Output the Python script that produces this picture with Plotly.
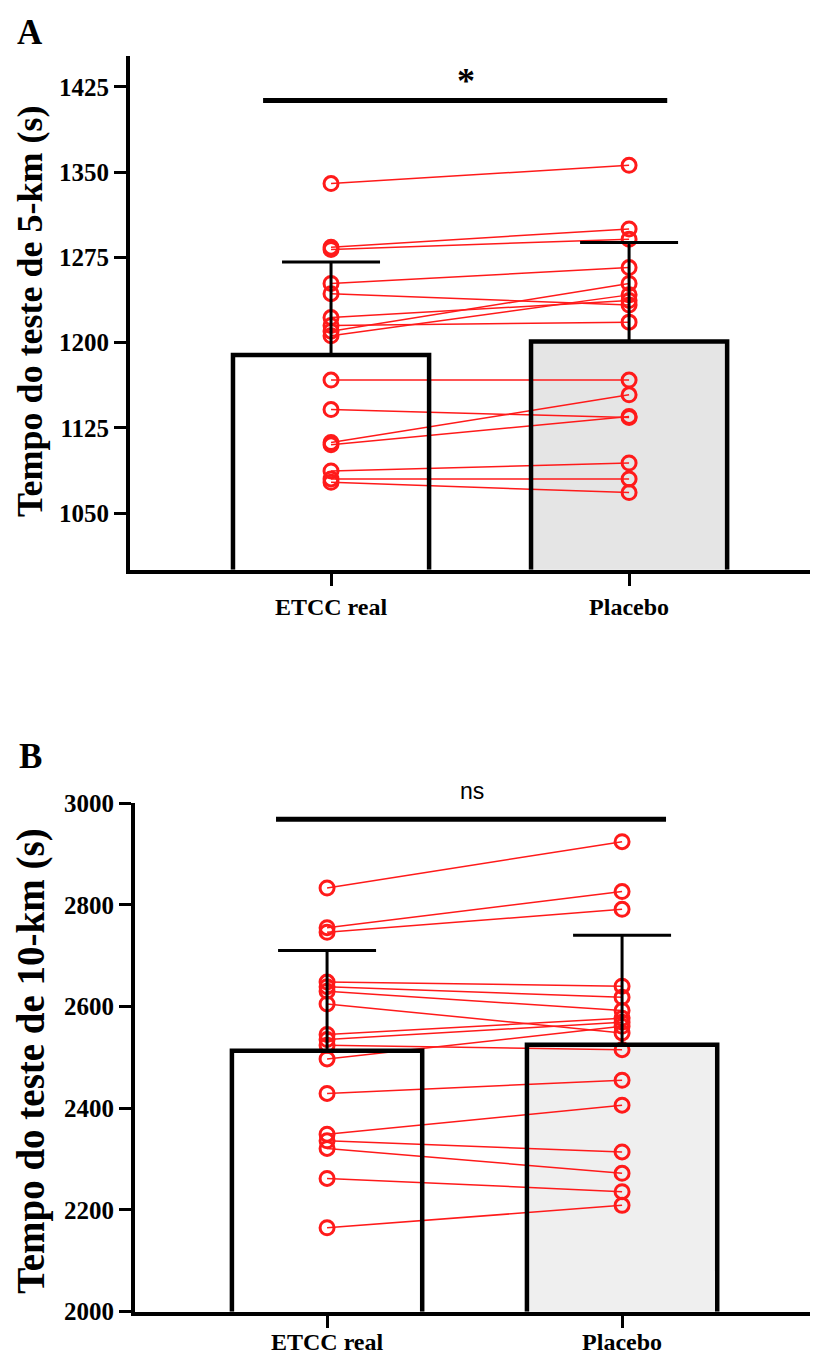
import plotly.graph_objects as go

# ---------------- data ----------------
groups = ["ETCC real", "Placebo"]

# Panel A: 5-km test time (s)
a_real = [1340, 1284, 1282, 1252, 1243, 1222, 1215, 1210, 1206, 1167, 1141, 1112, 1110, 1087, 1080, 1077]
a_plac = [1356, 1300, 1291, 1266, 1233, 1237, 1218, 1252, 1242, 1167, 1134, 1154, 1135, 1094, 1080, 1068]
a_mean = [1189, 1201]
a_sd = [82, 87]
a_ticks = [1050, 1125, 1200, 1275, 1350, 1425]

# Panel B: 10-km test time (s)
b_real = [2833, 2755, 2746, 2648, 2639, 2630, 2605, 2545, 2535, 2524, 2497, 2429, 2349, 2336, 2321, 2262, 2165]
b_plac = [2924, 2826, 2791, 2640, 2618, 2592, 2548, 2577, 2569, 2515, 2561, 2455, 2406, 2314, 2272, 2236, 2209]
b_mean = [2513, 2525]
b_sd = [197, 215]
b_ticks = [2000, 2200, 2400, 2600, 2800, 3000]

# ---------------- style / geometry ----------------
OFF = 8  # default page body margin
W, H = 819 - 2 * OFF, 1367 - 2 * OFF
SERIF = "Liberation Serif"
RED = "#ff1a1a"
pos = [0, 1]


def px(xp):
    return (xp - OFF) / W


def py(yp):
    return 1 - (yp - OFF) / H


fig = go.Figure()


def add_panel(xa, real, plac, mean, sd, fills, bw, ymin):
    xref = "x" if xa == 1 else f"x{xa}"
    yref = "y" if xa == 1 else f"y{xa}"
    # bar fills
    fig.add_trace(go.Bar(x=pos, y=mean, width=bw,
                         marker=dict(color=fills, line=dict(width=0)),
                         xaxis=xref, yaxis=yref, showlegend=False, hoverinfo="skip"))
    # paired lines + points
    xs, ys = [], []
    for r, p in zip(real, plac):
        xs += [pos[0], pos[1], None]
        ys += [r, p, None]
    fig.add_trace(go.Scatter(x=xs, y=ys, mode="lines+markers",
                             line=dict(color=RED, width=1.5),
                             marker=dict(symbol="circle-open", size=14, color=RED,
                                         line=dict(width=3, color=RED)),
                             xaxis=xref, yaxis=yref, showlegend=False, cliponaxis=False))
    # bar outlines drawn above the points
    for i in range(2):
        x0, x1 = pos[i] - bw / 2, pos[i] + bw / 2
        fig.add_trace(go.Scatter(x=[x0, x0, x1, x1], y=[ymin, mean[i], mean[i], ymin],
                                 mode="lines", line=dict(color="black", width=4.5),
                                 xaxis=xref, yaxis=yref, showlegend=False, hoverinfo="skip"))
    # error bars (upper only)
    fig.add_trace(go.Scatter(x=pos, y=mean, mode="markers",
                             marker=dict(size=1, color="rgba(0,0,0,0)"),
                             error_y=dict(type="data", symmetric=False, array=sd,
                                          arrayminus=[0, 0], color="black",
                                          thickness=3, width=49),
                             xaxis=xref, yaxis=yref, showlegend=False, hoverinfo="skip"))


A_RANGE = [1000, 1452]
B_RANGE = [2000, 3000]
add_panel(1, a_real, a_plac, a_mean, a_sd, ["white", "#e5e5e5"], 0.658, A_RANGE[0])
add_panel(2, b_real, b_plac, b_mean, b_sd, ["white", "#efefef"], 0.645, B_RANGE[0])

tickfont = dict(family=SERIF, size=25, color="black", weight="bold")
xtickfont = dict(family=SERIF, size=24, color="black", weight="bold")

common_x = dict(showline=True, linewidth=4, linecolor="black", showgrid=False, zeroline=False,
                ticks="outside", ticklen=12, tickwidth=3, tickcolor="black",
                tickmode="array", tickvals=pos, ticktext=groups, tickfont=xtickfont)
common_y = dict(showline=True, linewidth=4, linecolor="black", showgrid=False, zeroline=False,
                ticks="outside", ticklen=12, tickwidth=3, tickcolor="black",
                tickmode="array", tickfont=tickfont)

fig.update_layout(
    width=W, height=H,
    margin=dict(l=0, r=0, t=0, b=0),
    paper_bgcolor="white", plot_bgcolor="white",
    barmode="overlay",
    showlegend=False,
    xaxis=dict(domain=[px(130), px(810)], range=[-0.6745, 1.607], anchor="y", **common_x),
    yaxis=dict(domain=[py(568), py(44)], range=A_RANGE, anchor="x",
               tickvals=a_ticks, ticktext=[str(t) for t in a_ticks], **common_y),
    xaxis2=dict(domain=[px(135), px(810)], range=[-0.651, 1.637], anchor="y2",
                ticklabelstandoff=-6, **common_x),
    yaxis2=dict(domain=[py(1325), py(806)], range=B_RANGE, anchor="x2",
                tickvals=b_ticks, ticktext=[str(t) for t in b_ticks], **common_y),
)

# significance bars
fig.add_shape(type="line", xref="x", yref="y", x0=-0.228, x1=1.128, y0=1413, y1=1413,
              line=dict(color="black", width=5))
fig.add_shape(type="line", xref="x2", yref="y2", x0=-0.173, x1=1.149, y0=2968, y1=2968,
              line=dict(color="black", width=5))

annotations = [
    dict(text="<b>*</b>", x=0.453, y=1413, xref="x", yref="y", xanchor="center", yanchor="bottom",
         yshift=-2, showarrow=False, font=dict(family=SERIF, size=36, color="black")),
    dict(text="ns", x=0.49, y=2968, xref="x2", yref="y2", xanchor="center", yanchor="bottom",
         yshift=13, showarrow=False, font=dict(family="Liberation Sans", size=23, color="black")),
    dict(text="<b>A</b>", x=px(30), y=py(20), xref="paper", yref="paper",
         xanchor="center", yanchor="middle",
         showarrow=False, font=dict(family=SERIF, size=35, color="black")),
    dict(text="<b>B</b>", x=px(30), y=py(759), xref="paper", yref="paper",
         xanchor="center", yanchor="middle",
         showarrow=False, font=dict(family=SERIF, size=35, color="black")),
    dict(text="<b>Tempo do teste de 5-km (s)</b>", x=px(30), y=py(304),
         xref="paper", yref="paper", textangle=-90, showarrow=False,
         xanchor="center", yanchor="middle",
         font=dict(family=SERIF, size=36, color="black")),
    dict(text="<b>Tempo do teste de 10-km (s)</b>", x=px(31), y=py(1070),
         xref="paper", yref="paper", textangle=-90, showarrow=False,
         xanchor="center", yanchor="middle",
         font=dict(family=SERIF, size=39, color="black")),
]
fig.update_layout(annotations=annotations)

fig.write_html("out.html")
